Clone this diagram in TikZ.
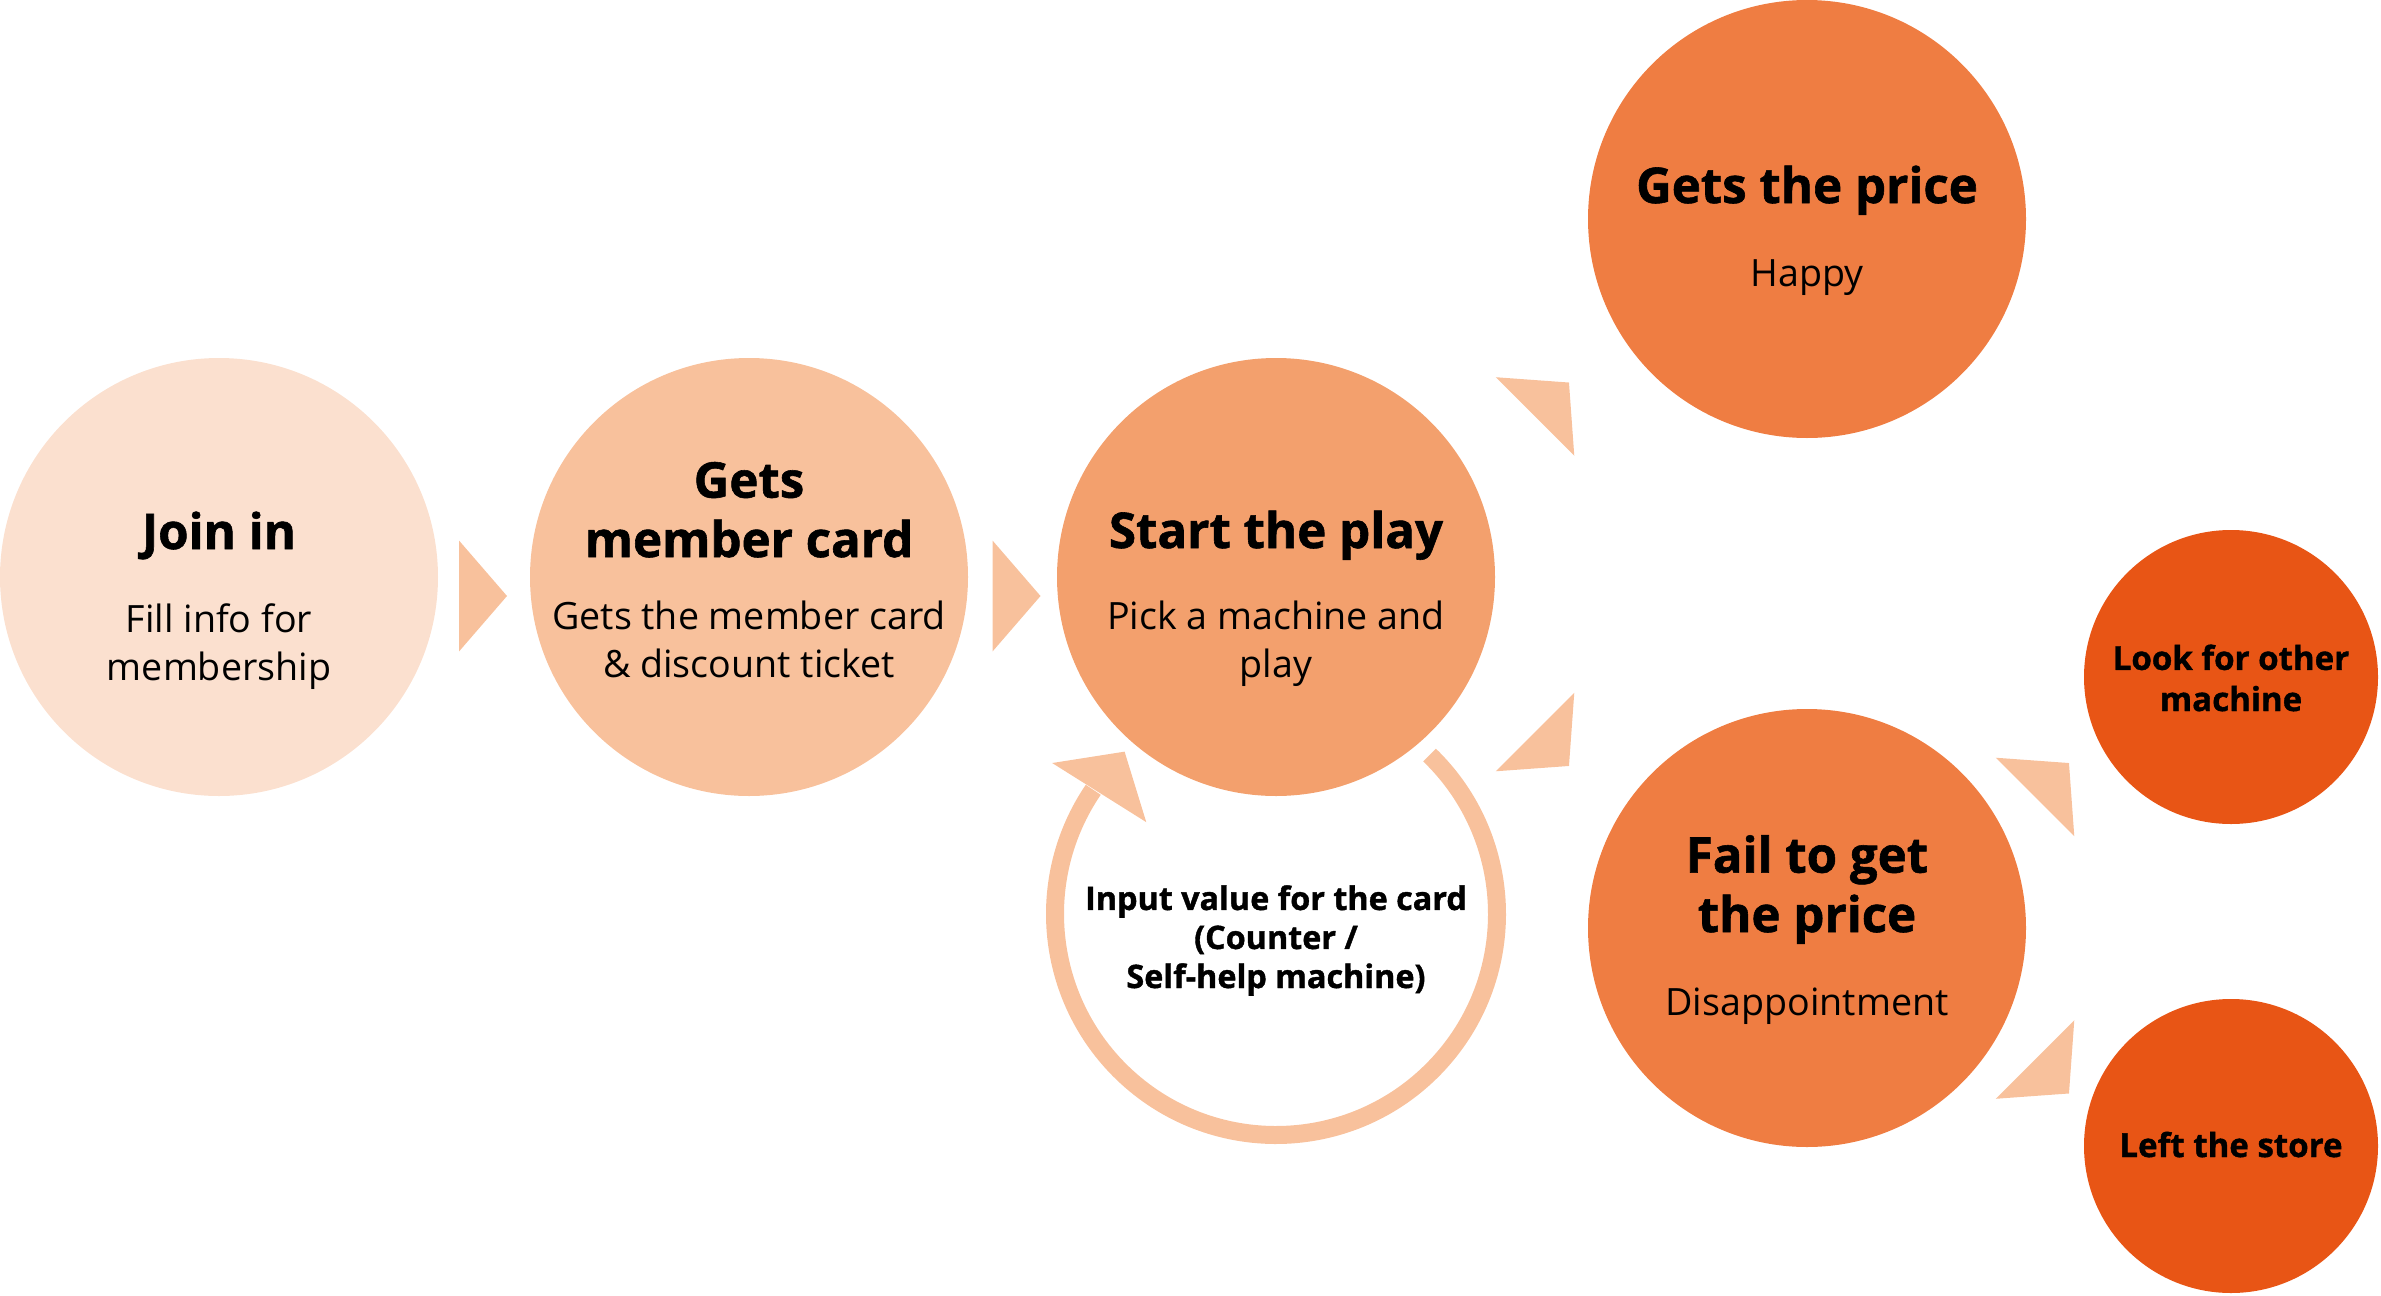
\documentclass[tikz,border=0pt]{standalone}
\usepackage{fontspec}
\setmainfont{Open Sans}
\newfontfamily\heavyfont{Open Sans}[BoldFeatures={FakeBold=1.2}]
\usetikzlibrary{calc}

\definecolor{toneA}{HTML}{FBE0CF}
\definecolor{toneB}{HTML}{F8C19C}
\definecolor{toneC}{HTML}{F3A06D}
\definecolor{toneD}{HTML}{EF7D42}
\definecolor{toneE}{HTML}{E85515}

% triangle between two circles: [shift]{from}{to}{angle}
\newcommand{\flowarrow}[4][]{%
  \fill[arrowfill, shift={($(#2)!0.5!(#3)$)}, #1, rotate=#4]
    (-0.24,0.555) -- (0.24,0) -- (-0.24,-0.555) -- cycle;}

\begin{document}
\begin{tikzpicture}
        [bigstep/.style={circle, minimum size=4.38cm, inner sep=0pt},
        endstep/.style={circle, minimum size=2.94cm, inner sep=0pt, fill=toneE},
        head/.style={font=\fontsize{14}{16.9}\selectfont\heavyfont\bfseries, align=center, inner sep=0pt},
        body/.style={font=\fontsize{10.7}{13.5}\selectfont, align=center, inner sep=0pt},
        small/.style={font=\fontsize{9.4}{11.7}\selectfont\heavyfont\bfseries, align=center, inner sep=0pt},
        note/.style={font=\fontsize{9.2}{11.1}\selectfont\heavyfont\bfseries, align=center, inner sep=0pt},
        arrowfill/.style={fill=toneB},
        ring/.style={draw=toneB, line width=0.18cm}]

        \useasboundingbox (0,0) rectangle (23.81,-12.96);

        % main steps
        \node[bigstep, fill=toneA] (join) at (2.19,-5.77) {};
        \node[bigstep, fill=toneB] (card) at (7.49,-5.77) {};
        \node[bigstep, fill=toneC] (play) at (12.76,-5.77) {};
        \node[bigstep, fill=toneD] (price) at (18.07,-2.19) {};
        \node[bigstep, fill=toneD] (fail) at (18.07,-9.28) {};
        \node[endstep] (look) at (22.31,-6.77) {};
        \node[endstep] (left) at (22.31,-11.46) {};

        % texts of the steps (base = last line)
        \node[head, anchor=base] (jointitle) at (2.19,-5.49) {Join in};
        \node[body, anchor=base] (joinbody) at (2.19,-6.80) {Fill info for\\membership};
        \node[head, anchor=base] (cardtitle) at (7.49,-5.57) {Gets\\member card};
        \node[body, anchor=base] (cardbody) at (7.49,-6.77) {Gets the member card\\\& discount ticket};
        \node[head, anchor=base] (playtitle) at (12.76,-5.48) {Start the play};
        \node[body, anchor=base] (playbody) at (12.76,-6.77) {Pick a machine and\\play};
        \node[head, anchor=base] (pricetitle) at (18.07,-2.03) {Gets the price};
        \node[body, anchor=base] (pricebody) at (18.07,-2.86) {Happy};
        \node[head, anchor=base] (failtitle) at (18.07,-9.32) {Fail to get\\the price};
        \node[body, anchor=base] (failbody) at (18.07,-10.15) {Disappointment};
        \node[small, anchor=base] (looktext) at (22.31,-7.11) {Look for other\\machine};
        \node[small, anchor=base] (lefttext) at (22.31,-11.57) {Left the store};

        % loop back to the play
        \coordinate (loop) at (12.76,-9.14);
        \node[note, anchor=base] (input) at (12.76,-9.88) {Input value for the card\\(Counter /\\Self-help machine)};
        \draw[ring] ([shift={(46:2.21)}]loop) arc[start angle=46, end angle=-214.2, radius=2.21];
        \fill[arrowfill] ([shift={(146:2.70)}]loop) -- ([shift={(133:2.22)}]loop)
            -- ([shift={(144.7:1.59)}]loop) -- cycle;

        % arrows between the steps
        \flowarrow[xshift=-0.01cm, yshift=-0.19cm]{join}{card}{0}
        \flowarrow[xshift=0.04cm, yshift=-0.19cm]{card}{play}{0}
        \flowarrow[xshift=0.105cm, yshift=-0.015cm]{play}{price}{45}
        \flowarrow[xshift=0.105cm, yshift=0.035cm]{play}{fail}{-45}
        \flowarrow[xshift=0.33cm, yshift=0.225cm]{fail}{look}{45}
        \flowarrow[xshift=0.33cm, yshift=-0.395cm]{fail}{left}{-45}

\end{tikzpicture}
\end{document}
